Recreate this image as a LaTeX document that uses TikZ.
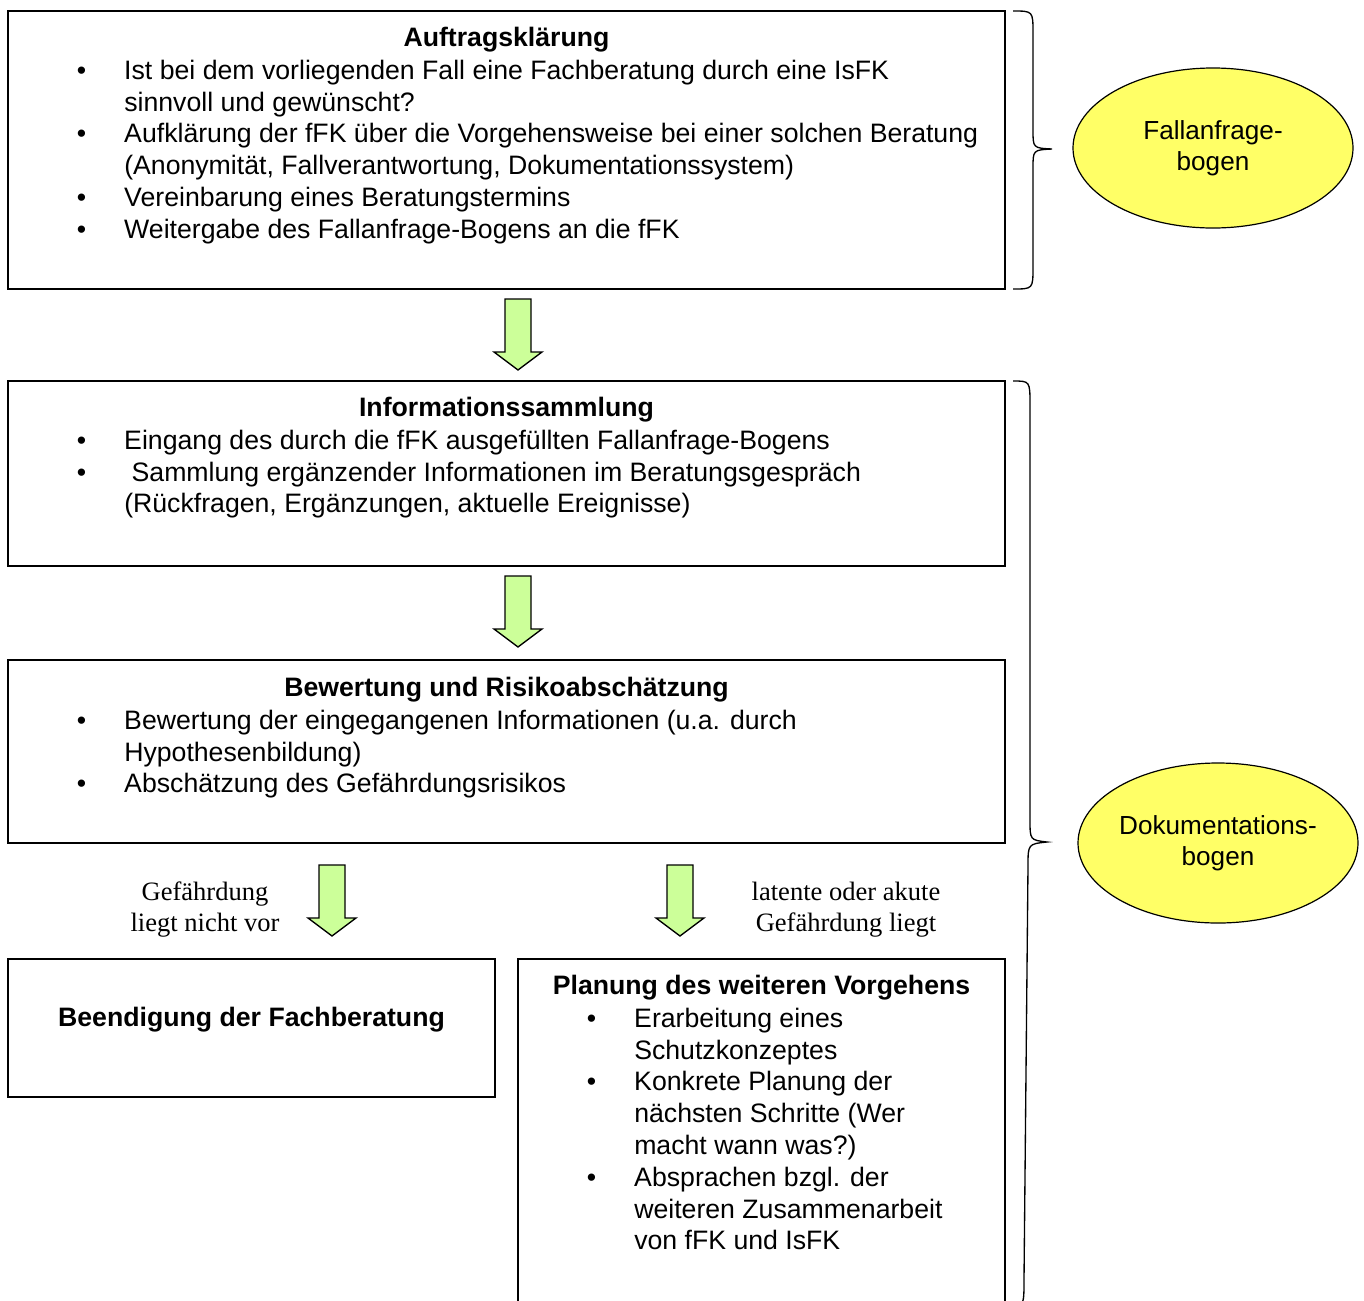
\documentclass[tikz,border=0pt]{standalone}
\usepackage{fontspec}
\setmainfont{Liberation Sans}
\newfontfamily\labelserif{Liberation Serif}
\usetikzlibrary{shapes.geometric}
\definecolor{arrowgreen}{HTML}{CCFF99}
\definecolor{docyellow}{HTML}{FFFF66}
\newcommand{\bul}{\makebox[31.5pt][l]{\hspace{-4pt}\textbullet}}
\newcommand{\ind}{\hspace*{31.5pt}}
\tikzset{
  stage/.style={draw, line width=1pt, inner sep=0pt, outer sep=0pt, anchor=north west},
  body/.style={anchor=north west, align=left, inner sep=0pt, font=\fontsize{20pt}{23.85pt}\selectfont},
  ttl/.style={anchor=base, inner sep=0pt, font=\fontsize{20pt}{23.85pt}\selectfont\bfseries},
  lbl/.style={anchor=north, align=center, inner sep=0pt, font=\labelserif\fontsize{19.9pt}{23.25pt}\selectfont},
  doc/.style={ellipse, draw, line width=0.9pt, fill=docyellow, minimum width=210pt, minimum height=120pt, inner sep=0pt, align=center, font=\fontsize{19.6pt}{23.25pt}\selectfont},
  blockarrow/.style={draw, line width=1pt, fill=arrowgreen, line join=miter},
  bracepath/.style={draw, line width=1pt},
  downarrow/.pic={\draw[blockarrow] (-13,-71) -- (13,-71) -- (13,-18) -- (24,-18) -- (0,0) -- (-24,-18) -- (-13,-18) -- cycle;}
}
\begin{document}
\begin{tikzpicture}[x=0.75pt,y=-0.75pt]
\useasboundingbox (0,0) rectangle (1364,1300);
\clip (0,0) rectangle (1364,1300);

% boxes
\node[stage, minimum width=997*0.75pt, minimum height=278*0.75pt] (b1) at (8,11) {};
\node[stage, minimum width=997*0.75pt, minimum height=185*0.75pt] (b2) at (8,381) {};
\node[stage, minimum width=997*0.75pt, minimum height=183*0.75pt] (b3) at (8,660) {};
\node[stage, minimum width=487*0.75pt, minimum height=138*0.75pt] (b4) at (8,959) {};
\node[stage, minimum width=487*0.75pt, minimum height=360*0.75pt] (b5) at (518,959) {};

% box 1
\node[ttl] (t1) at (506.5,46) {Auftragsklärung};
\node[body] (c1) at (82,56.7) {\strut\bul Ist bei dem vorliegenden Fall eine Fachberatung durch eine IsFK\\
\ind sinnvoll und gewünscht?\\
\bul Aufklärung der fFK über die Vorgehensweise bei einer solchen Beratung\\
\ind (Anonymität, Fallverantwortung, Dokumentationssystem)\\
\bul Vereinbarung eines Beratungstermins\\
\bul Weitergabe des Fallanfrage-Bogens an die fFK};

% box 2
\node[ttl] (t2) at (506.5,416) {Informationssammlung};
\node[body] (c2) at (82,426.7) {\strut\bul Eingang des durch die fFK ausgefüllten Fallanfrage-Bogens\\
\bul\ Sammlung ergänzender Informationen im Beratungsgespräch\\
\ind (Rückfragen, Ergänzungen, aktuelle Ereignisse)};

% box 3
\node[ttl] (t3) at (506.5,696) {Bewertung und Risikoabschätzung};
\node[body] (c3) at (82,706.7) {\strut\bul Bewertung der eingegangenen Informationen (u.a. durch\\
\ind Hypothesenbildung)\\
\bul Abschätzung des Gefährdungsrisikos};

% box 4
\node[ttl] (t4) at (251.5,1026) {Beendigung der Fachberatung};

% box 5
\node[ttl] (t5) at (761.5,994) {Planung des weiteren Vorgehens};
\node[body] (c5) at (592,1004.7) {\strut\bul Erarbeitung eines\\
\ind Schutzkonzeptes\\
\bul Konkrete Planung der\\
\ind nächsten Schritte (Wer\\
\ind macht wann was?)\\
\bul Absprachen bzgl. der\\
\ind weiteren Zusammenarbeit\\
\ind von fFK und IsFK};

% arrows
\coordinate (a1) at (518,370);
\coordinate (a2) at (518,647);
\coordinate (a3) at (332,936);
\coordinate (a4) at (680,936);
\pic at (a1) {downarrow};
\pic at (a2) {downarrow};
\pic at (a3) {downarrow};
\pic at (a4) {downarrow};

% labels
\node[lbl] (l1) at (205,878.3) {\strut Gefährdung\\liegt nicht vor};
\node[lbl] (l2) at (846,878.3) {\strut latente oder akute\\Gefährdung liegt};

% braces
\draw[bracepath] (1013,11) .. controls (1033,11) .. (1033,33) -- (1033,130)
  .. controls (1033,148) .. (1052,149) .. controls (1033,150) .. (1033,168)
  -- (1033,267) .. controls (1033,289) .. (1013,289);
\draw[bracepath] (1013,381) .. controls (1030,381) .. (1030,405) -- (1030,820)
  .. controls (1030,840) .. (1047,842) .. controls (1028,844) .. (1028,866)
  -- (1024,1280) .. controls (1024,1305) .. (1010,1312);

% documents
\node[doc] (d1) at (1213,148) {Fallanfrage-\\bogen};
\node[doc] (d2) at (1218,843) {Dokumentations-\\bogen};
\end{tikzpicture}
\end{document}
